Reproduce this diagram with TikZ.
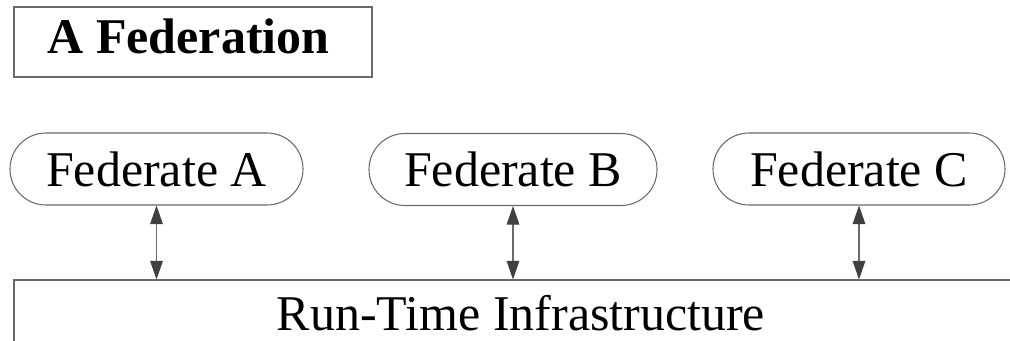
\documentclass[tikz,border=0pt]{standalone}
\usepackage{fontspec}
\setmainfont{Liberation Serif}
\usetikzlibrary{arrows.meta}
\definecolor{edgegray}{HTML}{6A6A6A}
\definecolor{tipgray}{HTML}{404040}
\tikzset{
  bigtext/.style={font=\fontsize{37.5}{40}\selectfont},
  titlebox/.style={draw=edgegray, line width=0.8pt, bigtext, inner sep=0pt,
    minimum width=268.5pt, minimum height=52.5pt, text height=22.5pt, text depth=6pt},
  fedbox/.style={draw=edgegray, line width=0.8pt, bigtext, inner sep=0pt,
    minimum height=54pt, rounded corners=26.9pt},
  rtibox/.style={draw=edgegray, line width=0.8pt, bigtext, inner sep=0pt,
    minimum width=760.5pt, minimum height=49.5pt},
  link/.style={draw=edgegray, line width=0.8pt,
    {Triangle[length=14pt,width=9.5pt,color=tipgray]}-{Triangle[length=14pt,width=9.5pt,color=tipgray]}}
}
\begin{document}
\begin{tikzpicture}[x=0.75pt, y=-0.75pt]
  \useasboundingbox (0,0) rectangle (1010,340);
  \clip (0,0) rectangle (1010,340);

  % federation title
  \node[titlebox] (title) at (193,42) {\textbf{A Federation}\kern6.75pt};

  % federates
  \node[fedbox, minimum width=219.75pt] (fa) at (156.5,169) {Federate A};
  \node[fedbox, minimum width=216pt]    (fb) at (513,169.5) {Federate B};
  \node[fedbox, minimum width=219pt]    (fc) at (859,169)   {Federate C};

  % run-time infrastructure (open towards the bottom and right)
  \node[rtibox] (rti) at (521,313) {Run-Time Infrastructure};

  % two-way links between each federate and the RTI
  \draw[link] (fa.south) -- (fa.south |- rti.north);
  \draw[link] (fb.south) -- (fb.south |- rti.north);
  \draw[link] (fc.south) -- (fc.south |- rti.north);
\end{tikzpicture}
\end{document}
